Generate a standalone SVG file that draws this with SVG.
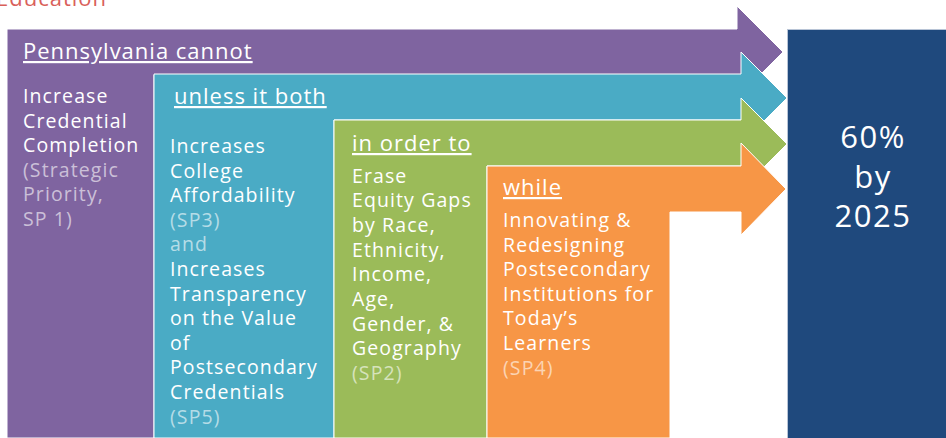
<svg xmlns="http://www.w3.org/2000/svg" width="946" height="438" viewBox="0 0 946 438">
<style>
text{font-family:"Open Sans","Liberation Sans",sans-serif;fill:#fff}
.h{font-size:22px;text-decoration:underline;letter-spacing:1px}
.b{font-size:19.5px;letter-spacing:1.1px}
.g{fill-opacity:0.6}
.big{font-size:31px;text-anchor:middle;letter-spacing:1.5px}
.sh{stroke:#fff;stroke-width:1}
</style>
<rect width="946" height="438" fill="#fff"/>
<text x="-4" y="6" style="font-size:22px;fill:#d9605a;letter-spacing:1px">Education</text>
<g id="cannot">
<polygon class="sh" fill="#7f64a0" points="7,29 737,29 737,6 783,52 737,98 737,75 154,75 154,438 7,438"/>
<text class="h" x="23" y="59">Pennsylvania cannot</text>
<text class="b" x="23" y="103">Increase</text>
<text class="b" x="23" y="127.5">Credential</text>
<text class="b" x="23" y="152">Completion</text>
<text class="b g" x="23" y="176.5">(Strategic</text>
<text class="b g" x="23" y="201">Priority,</text>
<text class="b g" x="23" y="225.5">SP 1)</text>
</g>
<g id="unless">
<polygon class="sh" fill="#4aabc5" points="154,74 741,74 741,52 787,98 741,144 741,120 334,120 334,438 154,438"/>
<text class="h" x="174" y="104">unless it both</text>
<text class="b" x="170" y="153">Increases</text>
<text class="b" x="170" y="177.6">College</text>
<text class="b" x="170" y="202.2">Affordability</text>
<text class="b g" x="170" y="226.8">(SP3)</text>
<text class="b g" x="170" y="251.4">and</text>
<text class="b" x="170" y="276">Increases</text>
<text class="b" x="170" y="300.6">Transparency</text>
<text class="b" x="170" y="325.2">on the Value</text>
<text class="b" x="170" y="349.8">of</text>
<text class="b" x="170" y="374.4">Postsecondary</text>
<text class="b" x="170" y="399">Credentials</text>
<text class="b g" x="170" y="423.6">(SP5)</text>
</g>
<g id="inorderto">
<polygon class="sh" fill="#9bbb59" points="334,120 741,120 741,98 787,144 741,190 741,166 487,166 487,438 334,438"/>
<text class="h" x="352" y="151">in order to</text>
<text class="b" x="352" y="182.5">Erase</text>
<text class="b" x="352" y="207.2">Equity Gaps</text>
<text class="b" x="352" y="231.9">by Race,</text>
<text class="b" x="352" y="256.6">Ethnicity,</text>
<text class="b" x="352" y="281.3">Income,</text>
<text class="b" x="352" y="306">Age,</text>
<text class="b" x="352" y="330.7">Gender, &amp;</text>
<text class="b" x="352" y="355.4">Geography</text>
<text class="b g" x="352" y="380.1">(SP2)</text>
</g>
<g id="while">
<polygon class="sh" fill="#f79646" points="487,166 741,166 741,143 786,189 741,235 741,212 670,212 670,438 487,438"/>
<text class="h" x="503" y="195">while</text>
<text class="b" x="503" y="227">Innovating &amp;</text>
<text class="b" x="503" y="251.6">Redesigning</text>
<text class="b" x="503" y="276.2">Postsecondary</text>
<text class="b" x="503" y="300.8">Institutions for</text>
<text class="b" x="503" y="325.4">Today’s</text>
<text class="b" x="503" y="350">Learners</text>
<text class="b g" x="503" y="374.6">(SP4)</text>
</g>
<g id="goal">
<rect x="787.5" y="29.5" width="160" height="410" fill="#1f497d" stroke="#b8c4d6" stroke-width="1"/>
<text class="big" x="873" y="148">60%</text>
<text class="big" x="873" y="187.5">by</text>
<text class="big" x="873" y="227">2025</text>
</g>
</svg>
